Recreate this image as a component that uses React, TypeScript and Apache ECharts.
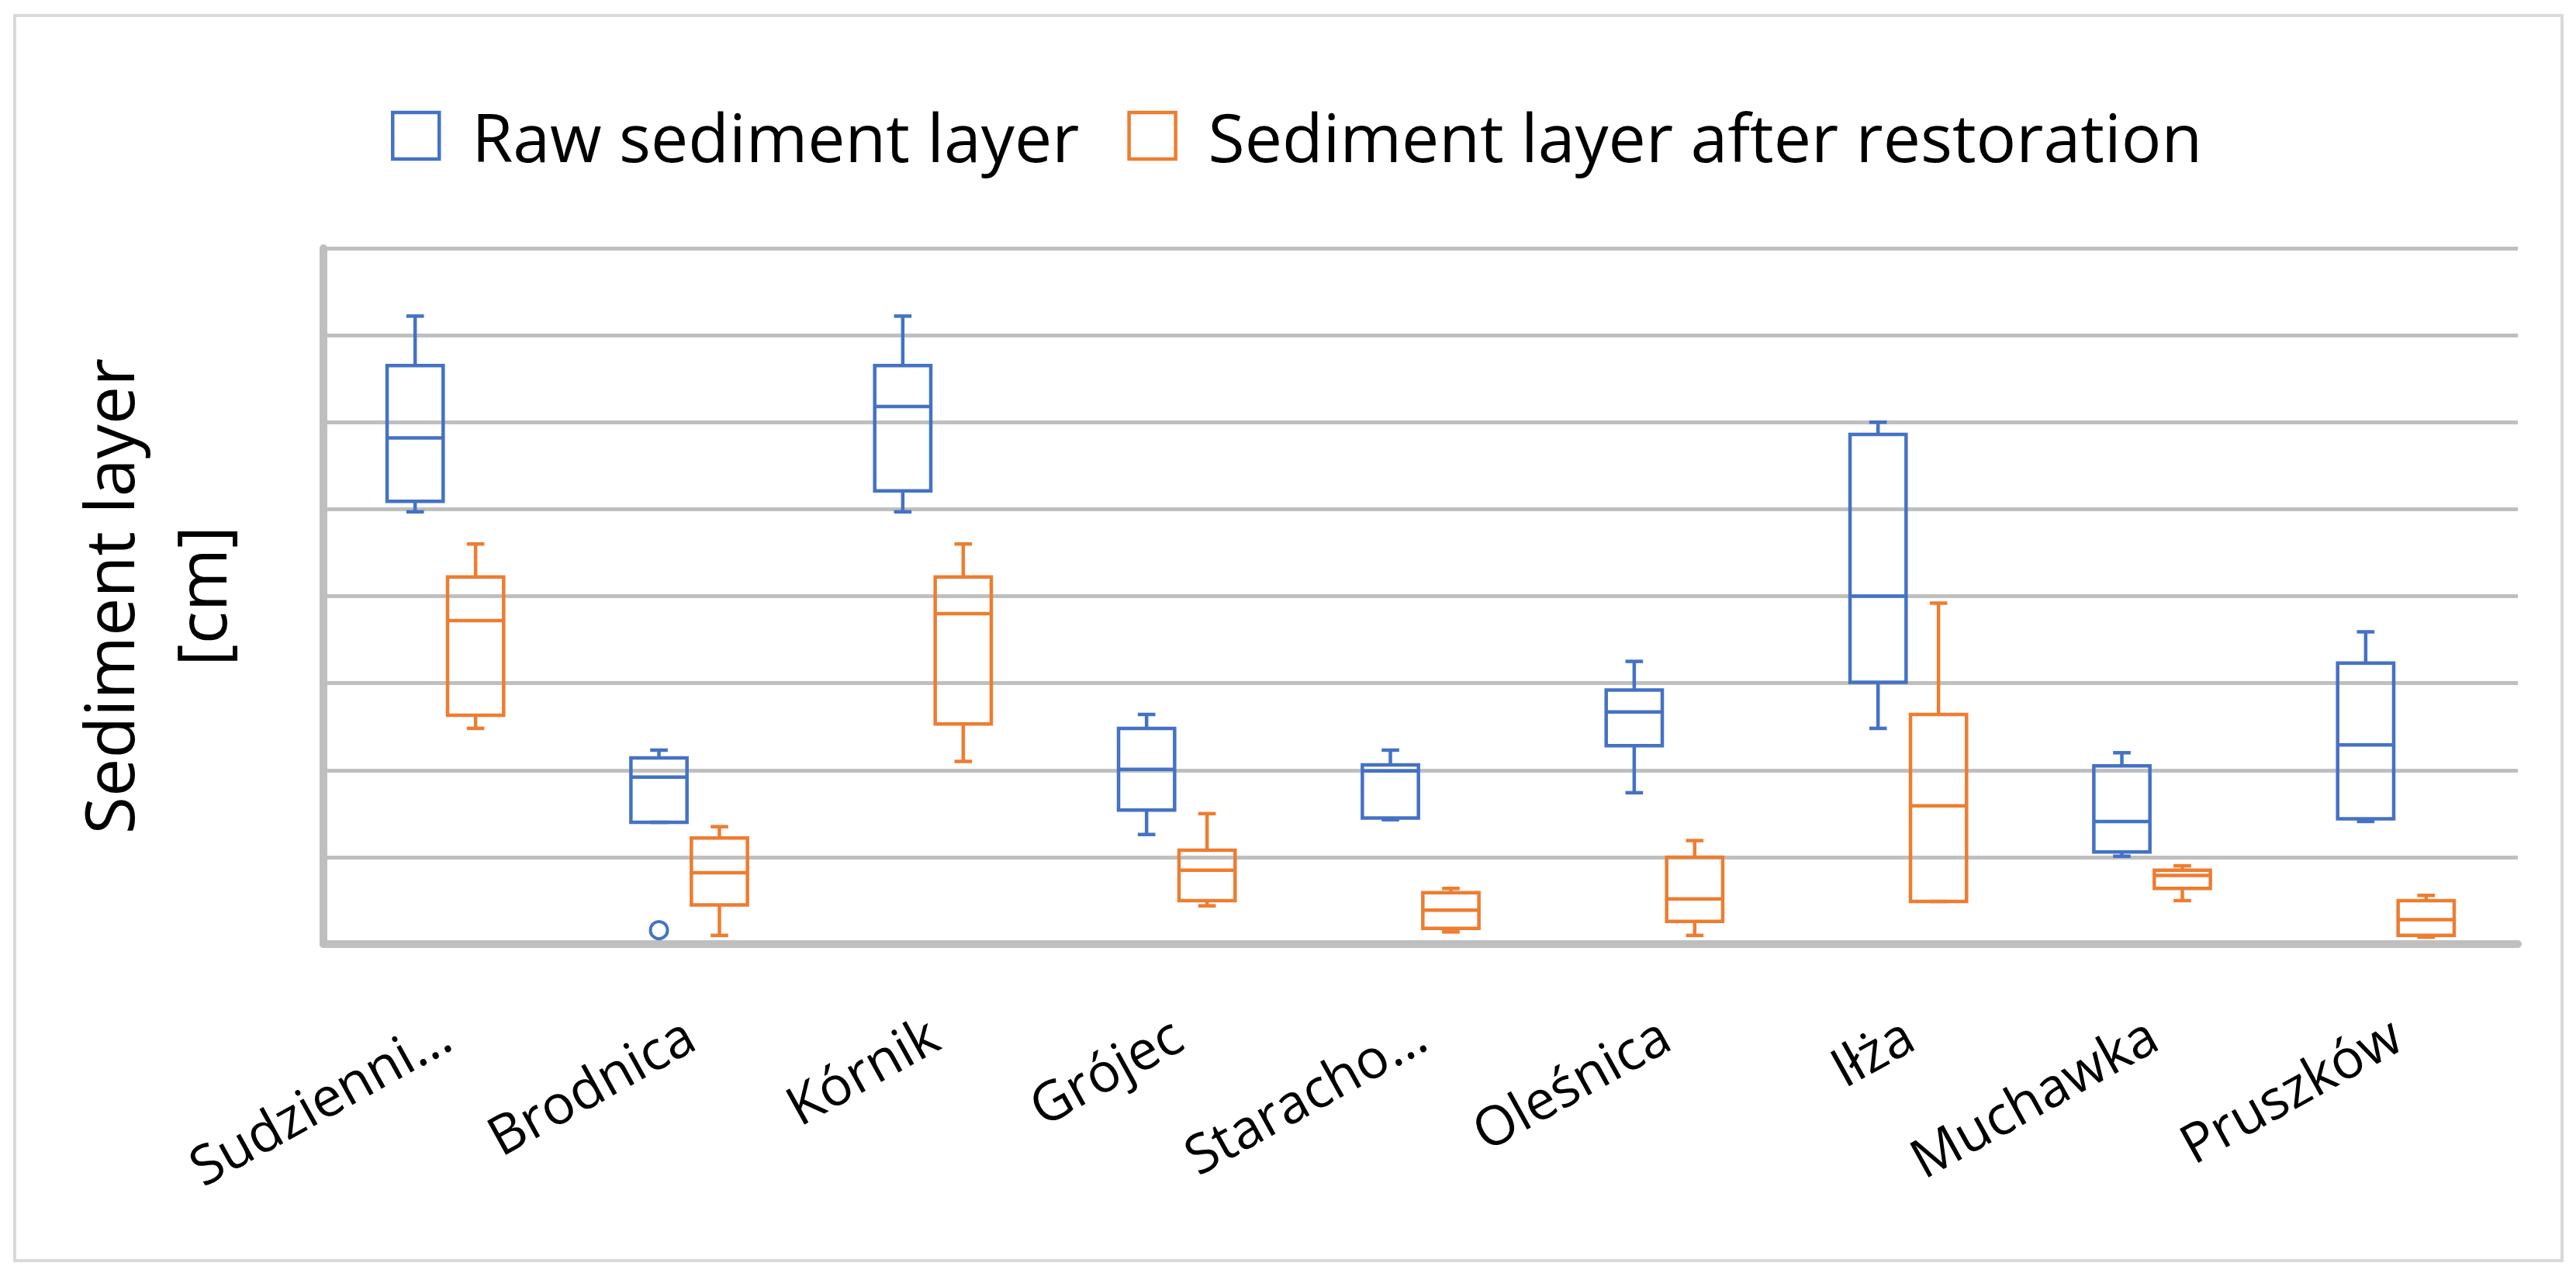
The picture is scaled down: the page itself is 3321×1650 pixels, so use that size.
import React, { useEffect, useRef } from "react";
import * as echarts from "echarts";

// ---- data ----
const categories = [
  "Sudzienni…",
  "Brodnica",
  "Kórnik",
  "Grójec",
  "Staracho…",
  "Oleśnica",
  "Iłża",
  "Muchawka",
  "Pruszków",
];

const seriesNames = ["Raw sediment layer", "Sediment layer after restoration"];

// [min, Q1, median, Q3, max]
const rawStats = [
  [49.7, 50.9, 58.2, 66.5, 72.2],
  [14.0, 14.0, 19.2, 21.4, 22.3],
  [49.7, 52.1, 61.8, 66.5, 72.2],
  [12.6, 15.4, 20.1, 24.8, 26.4],
  [14.3, 14.5, 19.9, 20.6, 22.3],
  [17.4, 22.8, 26.7, 29.2, 32.5],
  [24.8, 30.1, 40.0, 58.6, 60.0],
  [10.1, 10.6, 14.1, 20.5, 22.0],
  [14.1, 14.4, 22.9, 32.3, 35.9],
];

const restoredStats = [
  [24.8, 26.3, 37.2, 42.2, 46.0],
  [1.0, 4.5, 8.2, 12.2, 13.5],
  [21.0, 25.3, 38.0, 42.2, 46.0],
  [4.4, 5.0, 8.5, 10.8, 15.0],
  [1.4, 1.8, 3.9, 5.9, 6.4],
  [1.0, 2.6, 5.2, 10.0, 11.9],
  [4.9, 4.9, 15.9, 26.4, 39.2],
  [5.0, 6.4, 7.9, 8.5, 9.0],
  [0.8, 1.0, 2.8, 5.0, 5.6],
];

// [category index, value]
const rawOutliers = [[1, 1.6]];

const yMin = 0;
const yMax = 80;
const yInterval = 10;

const BLUE = "#4472C4";
const ORANGE = "#ED7D31";
const FONT = "'Open Sans', 'Noto Sans', sans-serif";

function boxRenderer(color: string, offsetFrac: number) {
  return (params: any, api: any) => {
    const idx = api.value(0);
    const band = api.size([1, 0])[0];
    const cx = api.coord([idx, 0])[0] + offsetFrac * band;
    const py = (i: number) => api.coord([idx, api.value(i)])[1];
    const yLo = py(1);
    const yQ1 = py(2);
    const yMed = py(3);
    const yQ3 = py(4);
    const yHi = py(5);
    const hw = band * 0.115;
    const cap = band * 0.036;
    const st = { stroke: color, lineWidth: 4.5, fill: "none" };
    return {
      type: "group",
      children: [
        { type: "line", shape: { x1: cx, y1: yQ3, x2: cx, y2: yHi }, style: st },
        { type: "line", shape: { x1: cx, y1: yQ1, x2: cx, y2: yLo }, style: st },
        { type: "line", shape: { x1: cx - cap, y1: yHi, x2: cx + cap, y2: yHi }, style: st },
        { type: "line", shape: { x1: cx - cap, y1: yLo, x2: cx + cap, y2: yLo }, style: st },
        {
          type: "rect",
          shape: { x: cx - hw, y: yQ3, width: 2 * hw, height: yQ1 - yQ3 },
          style: st,
        },
        { type: "line", shape: { x1: cx - hw, y1: yMed, x2: cx + hw, y2: yMed }, style: st },
      ],
    };
  };
}

function outlierRenderer(color: string, offsetFrac: number) {
  return (params: any, api: any) => {
    const idx = api.value(0);
    const band = api.size([1, 0])[0];
    const p = api.coord([idx, api.value(1)]);
    return {
      type: "circle",
      shape: { cx: p[0] + offsetFrac * band, cy: p[1], r: 11 },
      style: { stroke: color, lineWidth: 4, fill: "none" },
    };
  };
}

export default function App() {
  const ref = useRef<HTMLDivElement>(null);

  useEffect(() => {
    if (!ref.current) return;
    const chart = echarts.init(ref.current, undefined, { renderer: "svg" });
    const OFF = 0.124;

    chart.setOption({
      animation: false,
      backgroundColor: "#ffffff",
      graphic: [
        {
          type: "rect",
          z: -10,
          silent: true,
          shape: { x: 19, y: 20, width: 3284, height: 1605 },
          style: { stroke: "#d9d9d9", lineWidth: 4, fill: "none" },
        },
      ],
      legend: {
        left: 499,
        top: 127,
        itemWidth: 60,
        itemHeight: 60,
        itemGap: 62,
        icon: "rect",
        selectedMode: false,
        textStyle: {
          fontSize: 86,
          fontFamily: FONT,
          color: "#000",
          padding: [0, 0, 0, 37],
        },
        data: [
          {
            name: seriesNames[0],
            icon: "rect",
            itemStyle: { color: "rgba(255,255,255,0)", borderColor: BLUE, borderWidth: 4.5 },
          },
          {
            name: seriesNames[1],
            icon: "rect",
            itemStyle: { color: "rgba(255,255,255,0)", borderColor: ORANGE, borderWidth: 4.5 },
          },
        ],
      },
      grid: { left: 417, right: 75, top: 320, bottom: 433, containLabel: false },
      xAxis: {
        type: "category",
        data: categories,
        boundaryGap: true,
        axisLine: { show: true, lineStyle: { color: "#bfbfbf", width: 10 } },
        axisTick: { show: false },
        splitLine: { show: false },
        axisLabel: {
          interval: 0,
          rotate: 29,
          margin: 110,
          fontSize: 70,
          fontFamily: FONT,
          color: "#000",
        },
      },
      yAxis: {
        type: "value",
        min: yMin,
        max: yMax,
        interval: yInterval,
        name: "Sediment layer\n[cm]",
        nameLocation: "middle",
        nameRotate: 90,
        nameGap: 100,
        nameTextStyle: {
          fontSize: 88,
          fontFamily: FONT,
          color: "#000",
          lineHeight: 119,
          align: "center",
        },
        axisLine: { show: true, lineStyle: { color: "#bfbfbf", width: 10 } },
        axisTick: { show: false },
        axisLabel: { show: false },
        splitLine: { show: true, lineStyle: { color: "#bfbfbf", width: 5 } },
      },
      series: [
        {
          name: seriesNames[0],
          type: "custom",
          itemStyle: { color: BLUE },
          encode: { x: 0, y: [1, 2, 3, 4, 5] },
          data: rawStats.map((s, i) => [i, ...s]),
          renderItem: boxRenderer(BLUE, -OFF),
          z: 5,
        },
        {
          name: seriesNames[0],
          type: "custom",
          itemStyle: { color: BLUE },
          encode: { x: 0, y: 1 },
          data: rawOutliers,
          renderItem: outlierRenderer(BLUE, -OFF),
          z: 5,
        },
        {
          name: seriesNames[1],
          type: "custom",
          itemStyle: { color: ORANGE },
          encode: { x: 0, y: [1, 2, 3, 4, 5] },
          data: restoredStats.map((s, i) => [i, ...s]),
          renderItem: boxRenderer(ORANGE, OFF),
          z: 5,
        },
      ],
    });

    return () => chart.dispose();
  }, []);

  return (
    <div
      ref={ref}
      style={{ position: "fixed", left: 0, top: 0, width: "3321px", height: "1650px" }}
    />
  );
}
